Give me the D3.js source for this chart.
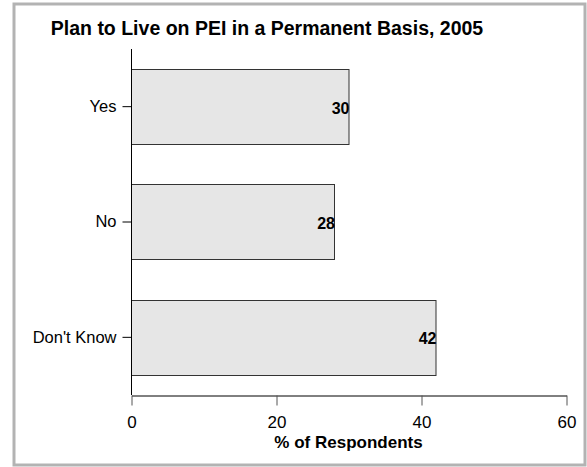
<!DOCTYPE html>
<html><head><meta charset="utf-8">
<script src="https://cdn.jsdelivr.net/npm/d3@7"></script>
<style>body{margin:0;background:#fff;}svg{display:block;font-family:"Liberation Sans",Arial,sans-serif;}</style>
</head><body>
<script>
const categories = ["Yes", "No", "Don't Know"];
const values = [30, 28, 42];
const xTicks = [0, 20, 40, 60];
const title = "Plan to Live on PEI in a Permanent Basis, 2005";
const xLabel = "% of Respondents";

const W = 587, H = 467;
const svg = d3.select("body").append("svg").attr("width", W).attr("height", H);

svg.append("rect").attr("x", 14).attr("y", 4).attr("width", 571).attr("height", 461)
  .attr("fill", "#fff").attr("stroke", "#b3b3b3").attr("stroke-width", 3);

const x = d3.scaleLinear().domain([0, 60]).range([131, 566]);
const y = d3.scaleBand().domain(categories).range([49, 395]).paddingInner(0.346).paddingOuter(0.173);

svg.append("text").attr("x", 267).attr("y", 35).attr("text-anchor", "middle")
  .attr("font-size", 19.5).attr("font-weight", "bold").text(title);

svg.selectAll("rect.bar").data(categories).join("rect").attr("class", "bar")
  .attr("x", x(0) + 0.5).attr("y", d => Math.round(y(d)) + 0.5)
  .attr("width", (d, i) => x(values[i]) - x(0))
  .attr("height", Math.round(y.bandwidth()))
  .attr("fill", "#e6e6e6").attr("stroke", "#333").attr("stroke-width", 1);

svg.selectAll("text.val").data(categories).join("text").attr("class", "val")
  .attr("x", (d, i) => x(values[i]) + 1).attr("y", d => y(d) + y.bandwidth() / 2 + 7)
  .attr("text-anchor", "end").attr("font-size", 16).attr("font-weight", "bold")
  .text((d, i) => values[i]);

// y axis
const yAxis = svg.append("g").attr("transform", `translate(${x(0) + 0.5},0)`)
  .call(d3.axisLeft(y).tickSize(9).tickPadding(6));
yAxis.select(".domain").attr("d", "M0,49V395").attr("stroke", "#000");
yAxis.selectAll("text").attr("font-size", 16.5).attr("fill", "#000").attr("font-family", "Liberation Sans, Arial, sans-serif");
yAxis.selectAll("line").attr("stroke", "#000");

// x axis
const xAxis = svg.append("g").attr("transform", "translate(0.5,395.5)")
  .call(d3.axisBottom(x).tickValues(xTicks).tickSize(10).tickPadding(10.5).tickSizeOuter(0));
xAxis.select(".domain").attr("stroke", "#000");
xAxis.selectAll("line").attr("stroke", "#555");
xAxis.selectAll("text").attr("font-size", 17).attr("fill", "#000").attr("font-family", "Liberation Sans, Arial, sans-serif").attr("dy", "0.7em");

svg.append("text").attr("x", x(30)).attr("y", 448).attr("text-anchor", "middle")
  .attr("font-size", 17).attr("font-weight", "bold").text(xLabel);
</script>
</body></html>
